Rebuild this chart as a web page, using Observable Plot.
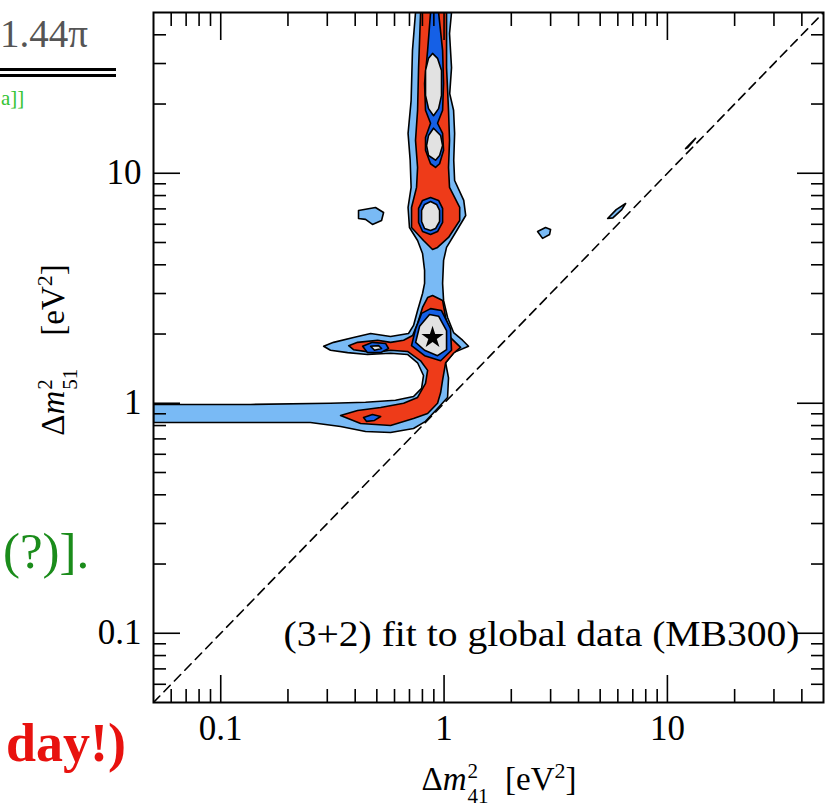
<!DOCTYPE html>
<html>
<head>
<meta charset="utf-8">
<script src="https://cdn.jsdelivr.net/npm/d3@7"></script>
<script src="https://cdn.jsdelivr.net/npm/@observablehq/plot@0.6"></script>
<style>
  body { margin: 0; background: white; }
  #wrap { position: relative; width: 829px; height: 812px; overflow: hidden; background: white; font-family: "Liberation Serif", serif; }
  #chart { position: absolute; left: 0; top: 0; }
  .ov { position: absolute; white-space: nowrap; line-height: 1; }
  .st { display: inline-block; vertical-align: -0.6em; font-size: 21px; line-height: 1.2; text-align: left; margin-left: 1px; }
  .st span { display: block; }
  .title { font-size: 33px; }
  .title sup { font-size: 22px; vertical-align: 0.55em; line-height: 0; }
</style>
</head>
<body>
<div id="wrap">
  <div id="chart"></div>
  <div class="ov" style="left:0px;top:14px;font-size:39px;color:#555;">1.44π</div>
  <div class="ov" style="left:0;top:68px;width:116px;height:3px;background:#000;"></div>
  <div class="ov" style="left:0;top:74px;width:116px;height:3px;background:#000;"></div>
  <div class="ov" style="left:1px;top:88px;font-size:21px;color:#35c435;">a]]</div>
  <div class="ov" style="left:3px;top:526px;font-size:51px;color:#1b8c1b;">(?)].</div>
  <div class="ov" style="left:6px;top:716px;font-size:54px;font-weight:bold;color:#e8120f;">day!)</div>
  <div class="ov title" id="xtitle" style="left:499px;top:784px;transform:translate(-50%,-50%);">Δ<i>m</i><span class="st"><span>2</span><span>41</span></span>&nbsp;&nbsp;[eV<sup>2</sup>]</div>
  <div class="ov title" id="ytitle" style="left:58px;top:350px;transform:translate(-50%,-50%) rotate(-90deg);">Δ<i>m</i><span class="st"><span>2</span><span>51</span></span>&nbsp;&nbsp;&nbsp;&nbsp;[eV<sup>2</sup>]</div>
</div>
<script>
// ---- axes ----
const xDomain = [0.05, 50];
const yDomain = [0.05, 50];
const majorTicks = [0.1, 1, 10];
const minorTicks = [0.06, 0.07, 0.08, 0.09, 0.2, 0.3, 0.4, 0.5, 0.6, 0.7, 0.8, 0.9, 2, 3, 4, 5, 6, 7, 8, 9, 20, 30, 40];
const annotation = "(3+2) fit to global data (MB300)";
const diagonal = [[0.05, 0.05], [50, 50]];
const bestFit = [[0.888, 1.93]];

// ---- contour regions: [Δm²41, Δm²51] vertices ----
// outermost (light blue)
const lbMain = [
  [0.745, 50], [0.722, 34.2], [0.712, 20.7], [0.690, 14.9], [0.705, 11.4], [0.712, 8.68], [0.690, 7.10],
  [0.700, 5.81], [0.761, 5.10], [0.801, 4.48], [0.818, 3.78], [0.818, 3.32], [0.801, 3.00], [0.761, 2.53],
  [0.730, 2.18], [0.693, 2.01], [0.576, 1.95], [0.469, 2.01], [0.393, 1.93], [0.320, 1.84], [0.289, 1.77],
  [0.310, 1.70], [0.370, 1.66], [0.454, 1.63], [0.576, 1.65], [0.686, 1.63], [0.761, 1.50], [0.809, 1.32],
  [0.793, 1.16], [0.730, 1.07], [0.606, 1.03], [0.445, 1.01], [0.310, 1.00], [0.136, 0.988], [0.05, 0.988],
  [0.05, 0.825], [0.252, 0.825], [0.344, 0.793], [0.445, 0.754], [0.576, 0.746], [0.730, 0.777], [0.826, 0.834],
  [0.935, 0.949], [1.037, 1.06], [1.047, 1.29], [1.016, 1.50], [1.103, 1.66], [1.287, 1.77], [1.210, 1.88],
  [1.103, 2.03], [1.037, 2.36], [0.995, 2.80], [0.985, 3.32], [0.995, 4.18], [1.026, 4.76], [1.140, 5.64],
  [1.250, 6.55], [1.225, 7.62], [1.115, 9.30], [1.105, 11.4], [1.115, 14.9], [1.103, 18.8], [1.060, 22.2],
  [1.080, 28.8], [1.058, 40.5], [1.080, 50]
];
const lbIsland1 = [[0.414, 6.89], [0.493, 7.10], [0.536, 6.75], [0.525, 6.23], [0.478, 5.99], [0.445, 6.30], [0.414, 6.36]];
const lbIsland2 = [[2.622, 5.58], [2.848, 5.81], [2.999, 5.70], [2.969, 5.42], [2.761, 5.21]];
const lbIsland3 = [[5.40, 6.36], [5.90, 6.95], [6.50, 7.39], [6.25, 6.95], [5.70, 6.40]];
const lbIsland4 = [[12.06, 12.8], [12.70, 13.5], [13.37, 14.2], [13.0, 13.7], [12.31, 12.9]];

// red
const redColumn = [
  [0.785, 50], [0.769, 28.8], [0.761, 18.8], [0.745, 13.9], [0.761, 10.6], [0.753, 8.68], [0.715, 7.10],
  [0.715, 5.81], [0.809, 5.10], [0.888, 4.66], [0.935, 4.76], [1.047, 5.26], [1.175, 6.23], [1.175, 7.10],
  [1.058, 8.68], [1.047, 10.6], [1.058, 13.9], [1.047, 18.8], [1.026, 28.8], [1.026, 50]
];
const redLower = [
  [0.888, 2.94], [0.985, 2.80], [1.016, 2.36], [1.069, 1.93], [1.186, 1.75], [1.103, 1.65], [1.016, 1.50],
  [0.985, 1.26], [0.965, 1.11], [0.935, 1.00], [0.844, 0.903], [0.730, 0.859], [0.576, 0.801], [0.423, 0.817],
  [0.344, 0.885], [0.410, 0.930], [0.520, 0.959], [0.659, 1.00], [0.761, 1.06], [0.826, 1.22], [0.844, 1.39],
  [0.785, 1.53], [0.686, 1.68], [0.576, 1.70], [0.483, 1.66], [0.393, 1.71], [0.374, 1.78], [0.410, 1.84],
  [0.504, 1.88], [0.576, 1.84], [0.659, 1.88], [0.723, 1.97], [0.761, 2.22], [0.801, 2.61], [0.844, 2.88]
];

// dark blue
const dbColumn = [
  [0.870, 50], [0.844, 34.2], [0.818, 24.6], [0.826, 18.8], [0.870, 16.5], [0.826, 14.3], [0.826, 12.6],
  [0.870, 11.0], [0.916, 10.6], [0.955, 11.0], [0.995, 12.6], [0.985, 14.9], [0.935, 16.5], [0.985, 18.8],
  [0.995, 24.6], [0.985, 34.2], [0.945, 50]
];
const dbRing7 = [[0.870, 7.85], [0.945, 7.62], [0.985, 7.03], [0.985, 6.11], [0.935, 5.58], [0.870, 5.42], [0.801, 5.58], [0.769, 6.11], [0.769, 7.03], [0.801, 7.62]];
const dbStar = [[0.870, 2.58], [0.974, 2.53], [1.069, 2.11], [1.080, 1.70], [0.965, 1.53], [0.818, 1.61], [0.715, 1.78], [0.746, 2.11], [0.793, 2.46]];
const dbArm = [[0.432, 1.77], [0.478, 1.84], [0.547, 1.82], [0.564, 1.73], [0.520, 1.66], [0.454, 1.66]];
const dbBand = [[0.436, 0.868], [0.478, 0.894], [0.520, 0.876], [0.488, 0.842], [0.450, 0.834]];

// gray (innermost)
const grTop = [[0.888, 33.2], [0.935, 31.6], [0.974, 28.0], [0.974, 21.8], [0.945, 19.1], [0.897, 17.8], [0.852, 19.1], [0.826, 21.8], [0.826, 28.0], [0.852, 31.6]];
const grMid = [[0.897, 15.7], [0.965, 14.6], [0.985, 13.2], [0.955, 11.95], [0.916, 11.4], [0.852, 11.95], [0.835, 13.2], [0.852, 14.6]];
const gr7 = [[0.870, 7.54], [0.926, 7.32], [0.955, 6.89], [0.955, 6.17], [0.916, 5.75], [0.870, 5.64], [0.818, 5.75], [0.793, 6.17], [0.793, 6.89], [0.818, 7.32]];
const grStar = [[0.861, 2.43], [0.945, 2.39], [1.026, 2.07], [1.026, 1.71], [0.935, 1.61], [0.818, 1.70], [0.746, 1.84], [0.777, 2.16]];
const grArm = [[0.469, 1.77], [0.509, 1.78], [0.525, 1.73], [0.488, 1.70]];

const layers = [
  {name: "lb", color: "#79baf5", polys: [lbMain, lbIsland1, lbIsland2, lbIsland3, lbIsland4]},
  {name: "rd", color: "#ee3b19", polys: [redColumn, redLower]},
  {name: "db", color: "#1560e6", polys: [dbColumn, dbRing7, dbStar, dbArm, dbBand]},
  {name: "gr", color: "#e2e2e2", polys: [grTop, grMid, gr7, grStar, grArm]}
];

const toRows = (layer) => layer.polys.flatMap((p, i) => p.map(([x, y]) => ({x, y, id: layer.name + i})));

const plot = Plot.plot({
  width: 829,
  height: 812,
  marginLeft: 153,
  marginRight: 6,
  marginTop: 12,
  marginBottom: 110,
  x: {type: "log", domain: xDomain},
  y: {type: "log", domain: yDomain},
  style: {fontFamily: "'Liberation Serif', serif", fontSize: "35px", color: "black", background: "transparent"},
  marks: [
    ...layers.map(layer => Plot.line(toRows(layer), {
      x: "x", y: "y", z: "id", curve: "linear-closed",
      fill: layer.color, stroke: "black", strokeWidth: 1.6, clip: true
    })),
    Plot.line(diagonal, {x: d => d[0], y: d => d[1], stroke: "black", strokeWidth: 1.6, strokeDasharray: "9,6", clip: true}),
    Plot.dot(bestFit, {x: d => d[0], y: d => d[1], symbol: "star", fill: "black", r: 7}),
    Plot.text([annotation], {frameAnchor: "bottom-right", textAnchor: "end", lineAnchor: "middle", dx: -24, dy: -68, fontSize: 35}),
    // inward ticks on all four sides
    Plot.axisX({anchor: "bottom", ticks: majorTicks, tickSize: -27, tickFormat: () => "", label: null, strokeWidth: 1.6}),
    Plot.axisX({anchor: "bottom", ticks: minorTicks, tickSize: -13, tickFormat: () => "", label: null, strokeWidth: 1.6}),
    Plot.axisX({anchor: "top", ticks: majorTicks, tickSize: -27, tickFormat: () => "", label: null, strokeWidth: 1.6}),
    Plot.axisX({anchor: "top", ticks: minorTicks, tickSize: -13, tickFormat: () => "", label: null, strokeWidth: 1.6}),
    Plot.axisY({anchor: "left", ticks: majorTicks, tickSize: -27, tickFormat: () => "", label: null, strokeWidth: 1.6}),
    Plot.axisY({anchor: "left", ticks: minorTicks, tickSize: -13, tickFormat: () => "", label: null, strokeWidth: 1.6}),
    Plot.axisY({anchor: "right", ticks: majorTicks, tickSize: -27, tickFormat: () => "", label: null, strokeWidth: 1.6}),
    Plot.axisY({anchor: "right", ticks: minorTicks, tickSize: -13, tickFormat: () => "", label: null, strokeWidth: 1.6}),
    // tick labels
    Plot.axisX({anchor: "bottom", ticks: majorTicks, tickSize: 0, tickPadding: 13, tickFormat: d => String(d), label: null}),
    Plot.axisY({anchor: "left", ticks: majorTicks, tickSize: 0, tickPadding: 12, tickFormat: d => String(d), label: null}),
    Plot.frame({stroke: "black", strokeWidth: 2})
  ]
});
// fit the annotation to the reference's width
d3.select(plot).selectAll('g[aria-label="text"] text')
  .attr("textLength", 516).attr("lengthAdjust", "spacingAndGlyphs");
document.getElementById("chart").appendChild(plot);
</script>
</body>
</html>
